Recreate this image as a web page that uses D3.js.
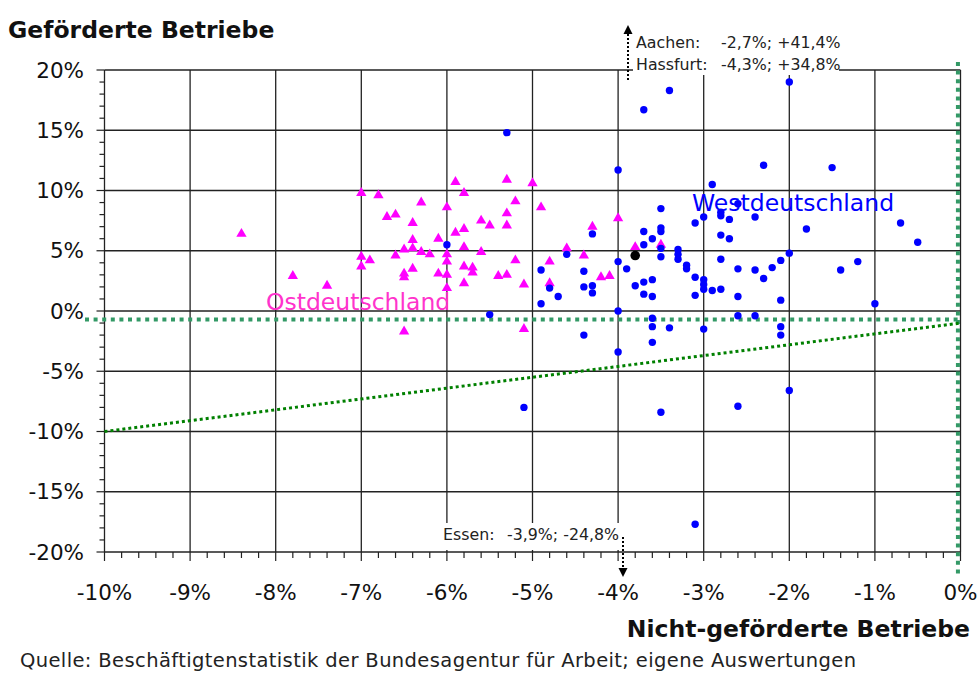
<!DOCTYPE html>
<html>
<head>
<meta charset="utf-8">
<title>Geförderte vs. nicht-geförderte Betriebe</title>
<script src="https://d3js.org/d3.v7.min.js"></script>
<style>
  body { margin: 0; background: #fff; }
  svg { display: block; font-family: "DejaVu Sans", sans-serif; }
  .grid line { stroke: #222; stroke-width: 1.3; }
  .tick-label { font-size: 21.5px; fill: #111; }
</style>
</head>
<body>
<div id="chart"></div>
<script>

// Ost: triangles (x = nicht-gefoerdert %, y = gefoerdert %)
let ostPoints = [
  [-7.0, 9.8], [-6.8, 9.6], [-6.7, 7.8], [-6.6, 8.0], [-8.4, 6.4], [-7.0, 4.5],
  [-6.9, 4.2], [-6.6, 4.6], [-7.0, 3.7], [-7.8, 2.9], [-7.4, 2.1],
  [-6.3, 9.0], [-5.9, 10.7], [-5.8, 9.8], [-5.3, 10.9], [-5.0, 10.6], [-5.2, 9.1],
  [-4.9, 8.6], [-6.0, 8.6], [-6.4, 7.3], [-5.6, 7.5], [-5.5, 7.1], [-5.3, 8.1],
  [-5.3, 7.1], [-5.9, 6.5], [-5.8, 6.8], [-6.1, 6.0], [-6.4, 5.9], [-6.4, 5.2],
  [-6.5, 5.1], [-6.3, 4.9], [-6.2, 4.7], [-6.0, 4.7], [-5.8, 5.3], [-5.6, 4.9],
  [-6.0, 4.1], [-6.5, 3.1], [-6.5, 2.8], [-6.4, 3.5], [-6.1, 3.1], [-6.0, 3.0],
  [-5.8, 3.7], [-5.7, 3.6], [-5.7, 3.2], [-5.8, 2.3], [-6.0, 1.9], [-5.4, 2.9],
  [-5.3, 3.0], [-5.2, 4.2], [-5.1, 2.2], [-5.1, -1.5], [-6.5, -1.7], [-4.8, 4.1],
  [-4.8, 2.3], [-4.6, 5.2], [-4.4, 4.6], [-4.3, 7.0], [-4.2, 2.8], [-4.1, 2.9],
  [-4.0, 7.7], [-3.8, 5.3], [-3.5, 5.5]
];

// West: dots
let westPoints = [
  [-4.0, 11.7], [-6.0, 5.5], [-5.5, -0.3], [-4.9, 3.4], [-4.8, 1.9], [-4.7, 1.2],
  [-4.9, 0.6], [-4.6, 4.7], [-4.4, 3.3], [-4.4, 2.0], [-4.3, 6.4], [-4.3, 2.1],
  [-4.3, 1.5], [-4.4, -2.0], [-4.0, 4.1], [-4.0, 0.0], [-4.0, -3.4], [-3.9, 3.5],
  [-3.8, 2.1], [-3.7, 2.4], [-3.6, 2.6], [-3.7, 1.4], [-3.6, 1.2], [-3.7, 6.6],
  [-3.7, 5.5], [-3.6, 6.0], [-3.5, 8.5], [-3.5, 6.9], [-3.5, 6.6], [-3.5, 5.2],
  [-3.5, 4.5], [-3.3, 5.1], [-3.3, 4.7], [-3.3, 4.3], [-3.6, -0.6], [-3.6, -1.3],
  [-3.6, -2.6], [-3.4, -1.4], [-2.0, 19.0], [-3.4, 18.3], [-3.7, 16.7], [-2.3, 12.1],
  [-1.5, 11.9], [-2.9, 10.5], [-2.6, 8.9], [-3.1, 7.3], [-3.0, 7.8], [-2.8, 8.2],
  [-2.8, 7.9], [-2.7, 7.6], [-2.4, 7.8], [-1.8, 6.8], [-0.7, 7.3], [-0.5, 5.7],
  [-2.8, 6.3], [-2.7, 6.0], [-3.2, 3.8], [-3.2, 3.5], [-3.1, 2.8], [-3.1, 1.3],
  [-3.0, 2.6], [-3.0, 2.2], [-3.0, 1.8], [-2.9, 1.7], [-2.8, 4.3], [-2.8, 1.8],
  [-2.6, 3.5], [-2.6, 1.2], [-2.4, 3.4], [-2.3, 2.7], [-2.2, 3.6], [-2.1, 4.2],
  [-2.0, 4.8], [-2.1, 0.9], [-1.4, 3.4], [-1.2, 4.1], [-1.0, 0.6], [-3.0, -1.5],
  [-2.6, -0.4], [-2.4, -0.4], [-2.1, -1.3], [-2.1, -2.0], [-5.3, 14.8], [-5.1, -8.0],
  [-3.5, -8.4], [-2.6, -7.9], [-3.1, -17.7], [-2.0, -6.6]
];

// Deutschland gesamt
let totalPoint = [[-3.8, 4.6]];

// reference lines
let meanGefoerdert = -0.7;
let meanNichtGefoerdert = -0.03;
let diagonalLine = [[-10, -10], [0, -1]];

let xTicks = d3.range(-10, 0.001, 1);
let yTicks = d3.range(-20, 20.001, 5);
let xMinor = d3.range(-10, 0.001, 0.2);
let yMinor = d3.range(-20, 20.001, 1);

// plain hyphen as in the original, not the unicode minus
let fmt = d => Math.round(d) + "%";

let width = 979, height = 675;

let x = d3.scaleLinear().domain([-10, 0]).range([104.5, 960.5]);
let y = d3.scaleLinear().domain([-20, 20]).range([552, 70]);

let svg = d3.select("#chart").append("svg")
    .attr("width", width)
    .attr("height", height);

// grid
let grid = svg.append("g").attr("class", "grid");
grid.selectAll(".vx")
  .data(xTicks)
  .enter().append("line")
    .attr("x1", d => x(d)).attr("x2", d => x(d))
    .attr("y1", y(20)).attr("y2", y(-20));
grid.selectAll(".hy")
  .data(yTicks)
  .enter().append("line")
    .attr("x1", x(-10)).attr("x2", x(0))
    .attr("y1", d => y(d)).attr("y2", d => y(d));

// ticks
let ticks = svg.append("g").attr("stroke", "#222").attr("stroke-width", 1.2);
ticks.selectAll(".ym")
  .data(yMinor)
  .enter().append("line")
    .attr("x1", d => x(-10) - (d % 5 === 0 ? 8 : 5)).attr("x2", x(-10))
    .attr("y1", d => y(d)).attr("y2", d => y(d));
ticks.selectAll(".xm")
  .data(xMinor)
  .enter().append("line")
    .attr("x1", d => x(d)).attr("x2", d => x(d))
    .attr("y1", y(-20))
    .attr("y2", (d, i) => y(-20) + (i % 5 === 0 ? 9 : 6));

// tick labels
svg.append("g").selectAll("text")
  .data(yTicks)
  .enter().append("text")
    .attr("class", "tick-label")
    .attr("x", 84)
    .attr("y", d => y(d))
    .attr("dy", "0.36em")
    .attr("text-anchor", "end")
    .text(fmt);
svg.append("g").selectAll("text")
  .data(xTicks)
  .enter().append("text")
    .attr("class", "tick-label")
    .attr("x", d => x(d))
    .attr("y", 600)
    .attr("text-anchor", "middle")
    .text(fmt);

// reference lines
svg.append("line")
    .attr("x1", 85).attr("x2", x(0))
    .attr("y1", y(meanGefoerdert)).attr("y2", y(meanGefoerdert))
    .attr("stroke", "#339966").attr("stroke-width", 4)
    .attr("stroke-dasharray", "4,4.6");
svg.append("line")
    .attr("x1", x(meanNichtGefoerdert)).attr("x2", x(meanNichtGefoerdert))
    .attr("y1", 62).attr("y2", 578)
    .attr("stroke", "#339966").attr("stroke-width", 4)
    .attr("stroke-dasharray", "4,4.6");
svg.append("path")
    .datum(diagonalLine)
    .attr("d", d3.line().x(d => x(d[0])).y(d => y(d[1])))
    .attr("fill", "none")
    .attr("stroke", "#008000").attr("stroke-width", 3)
    .attr("stroke-dasharray", "3,3");

// points
svg.append("g").selectAll("path")
  .data(ostPoints)
  .enter().append("path")
    .attr("d", d3.symbol(d3.symbolTriangle, 46))
    .attr("transform", d => "translate(" + x(d[0]) + "," + y(d[1]) + ")")
    .attr("fill", "#ff00ff");
svg.append("g").selectAll("circle")
  .data(westPoints)
  .enter().append("circle")
    .attr("cx", d => x(d[0]))
    .attr("cy", d => y(d[1]))
    .attr("r", 3.7)
    .attr("fill", "#0000ff");
svg.append("g").selectAll("circle")
  .data(totalPoint)
  .enter().append("circle")
    .attr("cx", d => x(d[0]))
    .attr("cy", d => y(d[1]))
    .attr("r", 4.8)
    .attr("fill", "#000");

// region labels
svg.append("text")
    .attr("x", 692).attr("y", 211)
    .attr("font-size", "23.5px").attr("fill", "#0000ff")
    .text("Westdeutschland");
svg.append("text")
    .attr("x", 266).attr("y", 310)
    .attr("font-size", "23.5px").attr("fill", "#ff33cc")
    .text("Ostdeutschland");

// off-chart annotations
function arrow(xp, yFrom, yTo) {
  let dir = yTo < yFrom ? -1 : 1;
  svg.append("line")
      .attr("x1", xp).attr("x2", xp)
      .attr("y1", yFrom).attr("y2", yTo - dir * 8)
      .attr("stroke", "#000").attr("stroke-width", 2)
      .attr("stroke-dasharray", "2,2");
  svg.append("path")
      .attr("d", "M" + (xp - 4.5) + "," + (yTo - dir * 9) + "L" + (xp + 4.5) + "," + (yTo - dir * 9) + "L" + xp + "," + yTo + "Z")
      .attr("fill", "#000");
}

svg.append("rect").attr("x", 633).attr("y", 28).attr("width", 206).attr("height", 47).attr("fill", "#fff");
svg.append("rect").attr("x", 440).attr("y", 523).attr("width", 183).attr("height", 27).attr("fill", "#fff");

let annotations = [
  {name: "Aachen:", value: "-2,7%; +41,4%", x: 636, xv: 721, y: 48},
  {name: "Hassfurt:", value: "-4,3%; +34,8%", x: 636, xv: 721, y: 70},
  {name: "Essen:", value: "-3,9%; -24,8%", x: 443, xv: 507, y: 540}
];
let ann = svg.append("g").attr("font-size", "15.8px").attr("fill", "#222");
annotations.forEach(a => {
  ann.append("text").attr("x", a.x).attr("y", a.y).text(a.name);
  ann.append("text").attr("x", a.xv).attr("y", a.y).text(a.value);
});
arrow(628, 80, 25);
arrow(623, 537, 577);

// axis titles
svg.append("text")
    .attr("x", 8).attr("y", 38)
    .attr("font-size", "23.5px").attr("font-weight", "bold").attr("fill", "#111")
    .text("Geförderte Betriebe");
svg.append("text")
    .attr("x", 970).attr("y", 637)
    .attr("text-anchor", "end")
    .attr("font-size", "23.5px").attr("font-weight", "bold").attr("fill", "#111")
    .text("Nicht-geförderte Betriebe");
svg.append("text")
    .attr("x", 20).attr("y", 667)
    .attr("font-size", "19.5px").attr("fill", "#222")
    .attr("textLength", 836).attr("lengthAdjust", "spacing")
    .text("Quelle: Beschäftigtenstatistik der Bundesagentur für Arbeit; eigene Auswertungen");

</script>
</body>
</html>
